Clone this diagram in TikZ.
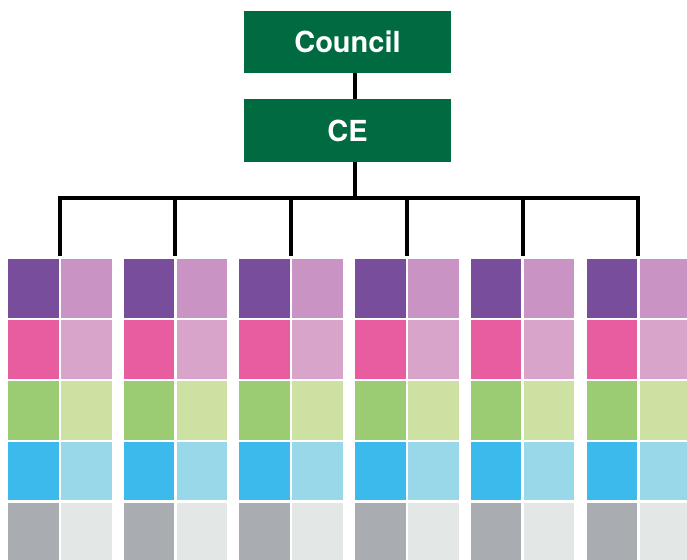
\documentclass[tikz,border=0pt]{standalone}
\usepackage{fontspec}
\setsansfont{TeX Gyre Heros}
\usetikzlibrary{positioning,calc}
\definecolor{boardgreen}{HTML}{006A41}
\definecolor{plumdark}{HTML}{784D9C}
\definecolor{plumlight}{HTML}{C993C3}
\definecolor{pinkdark}{HTML}{E85CA0}
\definecolor{pinklight}{HTML}{D9A4CA}
\definecolor{leafdark}{HTML}{9BCB73}
\definecolor{leaflight}{HTML}{CDE2A2}
\definecolor{skydark}{HTML}{3BBAEB}
\definecolor{skylight}{HTML}{99D8E8}
\definecolor{stonedark}{HTML}{A9ACB1}
\definecolor{stonelight}{HTML}{E3E7E6}
\begin{document}
\begin{tikzpicture}[x=1pt,y=-1pt,
  box/.style={fill=boardgreen,text=white,minimum width=206.7pt,minimum height=62.5pt,inner sep=0pt,
    font=\sffamily\bfseries\fontsize{29}{34}\selectfont},
  cell/.style={minimum width=50.5pt,minimum height=58.5pt,inner sep=0pt,outer sep=0pt},
  link/.style={line width=4pt,black}]
\useasboundingbox (0,0) rectangle (687,559);
\clip (0,0) rectangle (687,559);
\node[box] (council) at (347.5,42) {Council};
\node[box] (ce) at (347.5,130.5) {CE};
\coordinate (hub) at (355,198);
% departments
\foreach \i in {0,...,5}{
  \foreach \dk/\lt [count=\r from 0] in {plumdark/plumlight,pinkdark/pinklight,leafdark/leaflight,skydark/skylight,stonedark/stonelight}{
    \node[cell,fill=\dk,anchor=north west] (d-\i-\r) at ({8+115.7*\i},{259.3+60.85*\r}) {};
    \node[cell,fill=\lt,right=2.5pt of d-\i-\r] (l-\i-\r) {};
  }
  \coordinate (top-\i) at ($(d-\i-0.north east)!0.5!(l-\i-0.north west)+(0,-3.3)$);
}
\draw[link] (council.south -| hub) -- (ce.north -| hub);
\draw[link] (ce.south -| hub) -- (hub);
\draw[link] (top-0) |- (hub) -| (top-5);
\foreach \i in {1,...,4} \draw[link] (hub -| top-\i) -- (top-\i);
\end{tikzpicture}
\end{document}
